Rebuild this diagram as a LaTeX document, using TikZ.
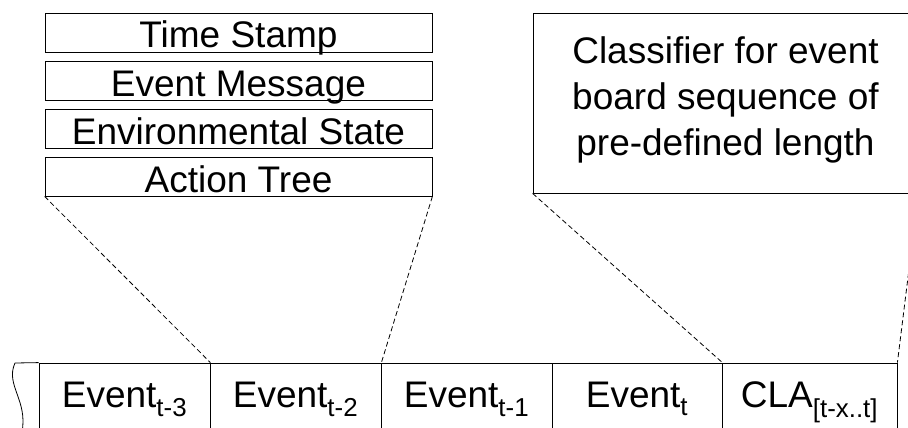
\documentclass[tikz,border=0pt]{standalone}
\usepackage{fontspec}
\setmainfont{Liberation Sans}
\begin{document}
\begin{tikzpicture}[x=1pt,y=-1pt,line width=0.8pt,
    font=\fontsize{37}{46}\selectfont,
    field/.style={draw,inner sep=0pt,minimum width=387pt,text height=35pt,text depth=4pt},
    cell/.style={draw,inner sep=0pt,text height=44pt,text depth=32pt},
    link/.style={dash pattern=on 5pt off 3pt}]
  \clip (0,0) rectangle (908,428);
  \draw
    (238.5,32.5) node[field] (ts){Time Stamp}
    (238.5,80.5) node[field] (em){Event Message}
    (238.5,128.5) node[field] (es){Environmental State}
    (238.5,176.5) node[field] (at){Action Tree}
    (725.5,103) node[draw,minimum width=385pt,minimum height=180pt,align=center,text depth=14pt] (cls)
      {Classifier for event\\board sequence of\\pre-defined length}
    (124.5,401) node[cell,minimum width=171pt] (e3){Event\textsubscript{t-3}}
    (295.5,401) node[cell,minimum width=171pt] (e2){Event\textsubscript{t-2}}
    (466.5,401) node[cell,minimum width=171pt] (e1){Event\textsubscript{t-1}}
    (637,401) node[cell,minimum width=170pt] (e0){Event\textsubscript{t}}
    (809.5,401) node[cell,minimum width=175pt] (cla){CLA\textsubscript{[t-x..t]}};
  \coordinate (tear) at (15,363);
  \draw (tear) -- (e3.north west);
  \draw (tear) .. controls (5,385) and (28,400) .. (22,432);
  \begin{scope}[link]
    \draw (at.south west) to (e3.north east);
    \draw (at.south east) to (e2.north east);
    \draw (cls.south west) to (e0.north east);
    \draw (cls.south east) to (cla.north east);
  \end{scope}
\end{tikzpicture}
\end{document}
